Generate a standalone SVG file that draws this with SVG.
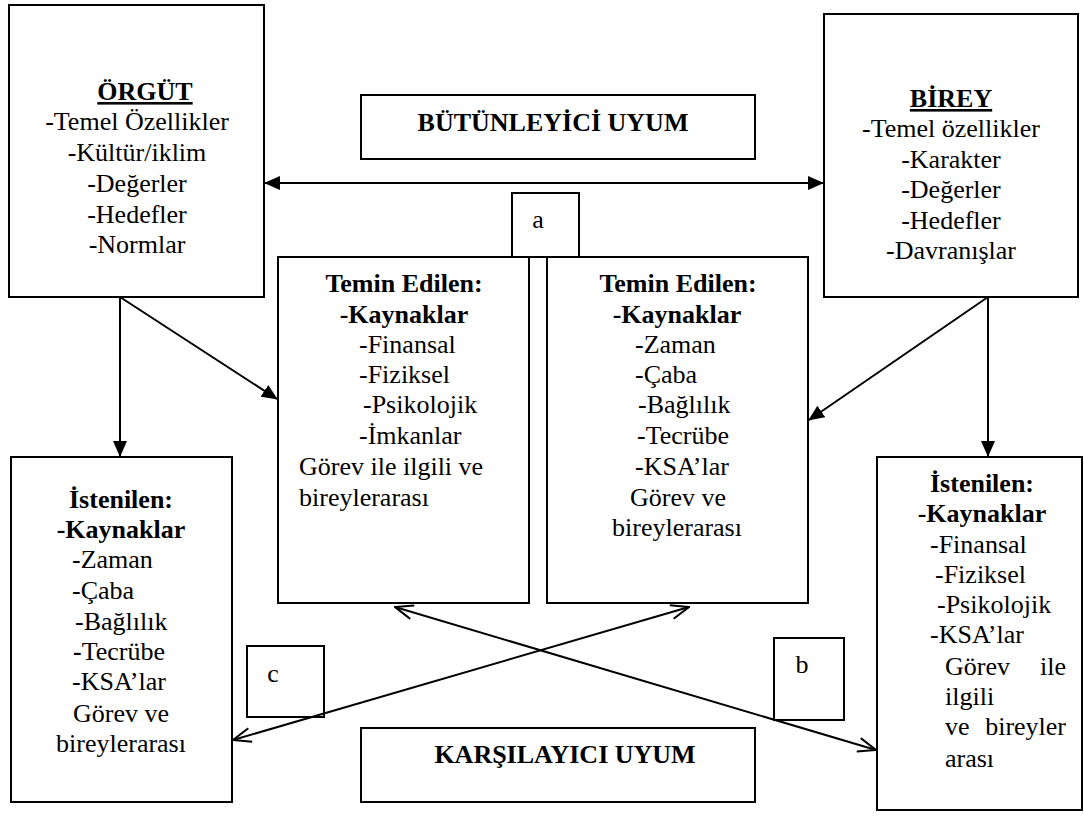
<svg xmlns="http://www.w3.org/2000/svg" width="1084" height="816" viewBox="0 0 1084 816">
<style>
.box{fill:#fff;stroke:#000;stroke-width:2}
.t{font-size:26px;fill:#000}
.b{font-weight:bold}
.m{text-anchor:middle}
.e{text-anchor:end}
.ln{stroke:#000;stroke-width:2;fill:none}
</style>
<defs>
<marker id="fa" viewBox="0 0 16 14" refX="15" refY="7" markerWidth="16" markerHeight="14" markerUnits="userSpaceOnUse" orient="auto-start-reverse"><path d="M0,0 L16,7 L0,14 z" fill="#000"/></marker>
<marker id="oa" viewBox="0 0 20 16" refX="19" refY="8" markerWidth="20" markerHeight="16" markerUnits="userSpaceOnUse" orient="auto-start-reverse"><path d="M1,1 L19,8 L1,15" fill="none" stroke="#000" stroke-width="2"/></marker>
</defs>
<rect width="1084" height="816" fill="#fff"/>
<g font-family="Liberation Serif, Tinos, DejaVu Serif, serif">
<g id="orgut">
<rect class="box" x="9" y="5" width="255" height="292"/>
<text class="t b m" x="145" y="100" text-decoration="underline">ÖRGÜT</text>
<text class="t m" x="137" y="130">-Temel Özellikler</text>
<text class="t m" x="137" y="161">-Kültür/iklim</text>
<text class="t m" x="137" y="192">-Değerler</text>
<text class="t m" x="137" y="223">-Hedefler</text>
<text class="t m" x="137" y="253">-Normlar</text>
</g>
<g id="butunleyici">
<rect class="box" x="361" y="95" width="394" height="64"/>
<text class="t b m" x="553" y="131">BÜTÜNLEYİCİ UYUM</text>
</g>
<g id="birey">
<rect class="box" x="824" y="14" width="254" height="283"/>
<text class="t b m" x="951" y="107" text-decoration="underline">BİREY</text>
<text class="t m" x="951" y="137">-Temel özellikler</text>
<text class="t m" x="951" y="168">-Karakter</text>
<text class="t m" x="951" y="198">-Değerler</text>
<text class="t m" x="951" y="229">-Hedefler</text>
<text class="t m" x="951" y="259">-Davranışlar</text>
</g>
<g id="label-a">
<rect class="box" x="512" y="193" width="67" height="64"/>
<text class="t m" x="538" y="228">a</text>
</g>
<g id="temin-orgut">
<rect class="box" x="278" y="257" width="251" height="346"/>
<text class="t b m" x="404" y="292">Temin Edilen:</text>
<text class="t b m" x="404" y="323">-Kaynaklar</text>
<text class="t" x="359" y="353">-Finansal</text>
<text class="t" x="359" y="383">-Fiziksel</text>
<text class="t" x="363" y="413">-Psikolojik</text>
<text class="t" x="359" y="444">-İmkanlar</text>
<text class="t" x="299" y="475">Görev ile ilgili ve</text>
<text class="t" x="299" y="506">bireylerarası</text>
</g>
<g id="temin-birey">
<rect class="box" x="547" y="257" width="261" height="346"/>
<text class="t b m" x="678" y="292">Temin Edilen:</text>
<text class="t b m" x="677" y="323">-Kaynaklar</text>
<text class="t" x="635" y="353">-Zaman</text>
<text class="t" x="635" y="383">-Çaba</text>
<text class="t" x="638" y="413">-Bağlılık</text>
<text class="t" x="637" y="444">-Tecrübe</text>
<text class="t" x="635" y="475">-KSA’lar</text>
<text class="t m" x="678" y="506">Görev ve</text>
<text class="t m" x="677" y="536">bireylerarası</text>
</g>
<g id="istenilen-orgut">
<rect class="box" x="11" y="457" width="221" height="345"/>
<text class="t b m" x="121" y="508">İstenilen:</text>
<text class="t b m" x="121" y="538">-Kaynaklar</text>
<text class="t" x="72" y="568">-Zaman</text>
<text class="t" x="72" y="599">-Çaba</text>
<text class="t" x="75" y="630">-Bağlılık</text>
<text class="t" x="73" y="660"><tspan font-weight="bold">-</tspan>Tecrübe</text>
<text class="t" x="72" y="690">-KSA’lar</text>
<text class="t m" x="121" y="722">Görev ve</text>
<text class="t m" x="121" y="752">bireylerarası</text>
</g>
<g id="istenilen-birey">
<rect class="box" x="877" y="457" width="205" height="353"/>
<text class="t b m" x="982" y="492">İstenilen:</text>
<text class="t b m" x="982" y="522">-Kaynaklar</text>
<text class="t" x="930" y="553">-Finansal</text>
<text class="t" x="935" y="583">-Fiziksel</text>
<text class="t" x="937" y="613">-Psikolojik</text>
<text class="t" x="930" y="643">-KSA’lar</text>
<text class="t" x="945" y="675">Görev</text>
<text class="t e" x="1066" y="675">ile</text>
<text class="t" x="945" y="705">ilgili</text>
<text class="t" x="945" y="735">ve</text>
<text class="t e" x="1066" y="735">bireyler</text>
<text class="t" x="945" y="767">arası</text>
</g>
<g id="label-c">
<rect class="box" x="247" y="646" width="77" height="71"/>
<text class="t m" x="273" y="682">c</text>
</g>
<g id="label-b">
<rect class="box" x="774" y="638" width="70" height="82"/>
<text class="t m" x="802" y="673">b</text>
</g>
<g id="karsilayici">
<rect class="box" x="361" y="728" width="394" height="74"/>
<text class="t b m" x="565" y="763">KARŞILAYICI UYUM</text>
</g>
</g>
<g id="connectors">
<line class="ln" x1="265" y1="183" x2="823" y2="183" marker-start="url(#fa)" marker-end="url(#fa)"/>
<line class="ln" x1="120" y1="297" x2="120" y2="456" marker-end="url(#fa)"/>
<line class="ln" x1="120" y1="297" x2="277" y2="399" marker-end="url(#fa)"/>
<line class="ln" x1="988" y1="297" x2="988" y2="456" marker-end="url(#fa)"/>
<line class="ln" x1="988" y1="297" x2="809" y2="420" marker-end="url(#fa)"/>
<line class="ln" x1="395" y1="607" x2="876" y2="750" marker-start="url(#oa)" marker-end="url(#oa)"/>
<line class="ln" x1="689" y1="607" x2="233" y2="740" marker-start="url(#oa)" marker-end="url(#oa)"/>
</g>
</svg>
